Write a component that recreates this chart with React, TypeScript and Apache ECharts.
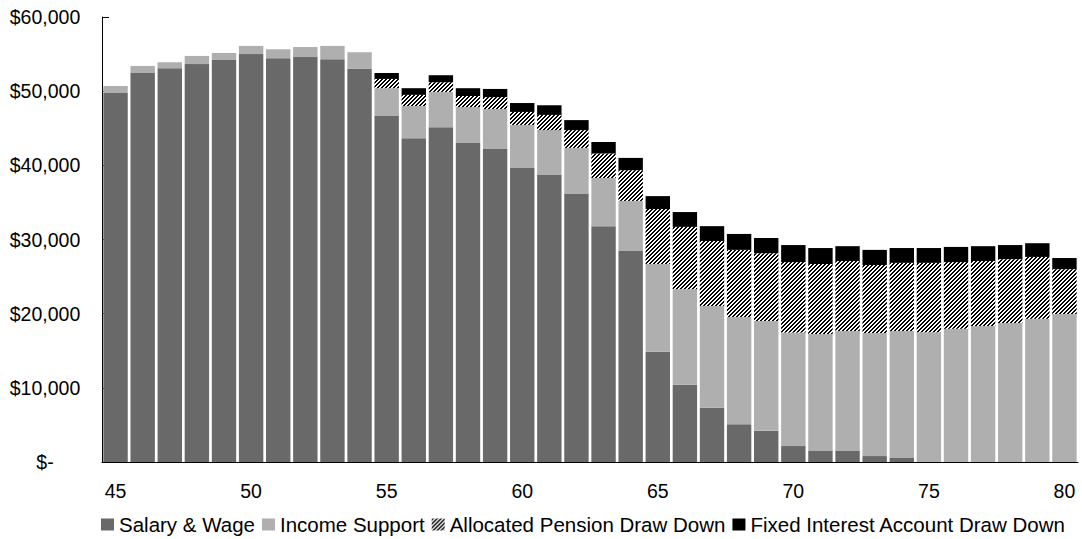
import React, { useEffect, useRef } from "react";
import * as echarts from "echarts";

// Age along the horizontal axis
const ages: string[] = [
  "45", "46", "47", "48", "49", "50", "51", "52", "53", "54",
  "55", "56", "57", "58", "59", "60", "61", "62", "63", "64",
  "65", "66", "67", "68", "69", "70", "71", "72", "73", "74",
  "75", "76", "77", "78", "79", "80",
];

// Annual income by source ($)
const salaryWage: number[] = [
  49750, 52450, 53100, 53650, 54200, 55000, 54450, 54600, 54300, 53000,
  46650, 43650, 45150, 43000, 42200, 39650, 38700, 36150, 31800, 28450,
  14850, 10400, 7300, 5100, 4200, 2150, 1500, 1500, 800, 550,
  0, 0, 0, 0, 0, 0,
];

const incomeSupport: number[] = [
  950, 950, 800, 1100, 950, 1100, 1200, 1350, 1800, 2250,
  3750, 4350, 4750, 4850, 5400, 5800, 6050, 6200, 6500, 6750,
  11850, 12900, 13750, 14450, 14800, 15300, 15750, 16150, 16600, 17100,
  17500, 17950, 18350, 18750, 19300, 19950,
];

const allocatedPension: number[] = [
  0, 0, 0, 0, 0, 0, 0, 0, 0, 0,
  1250, 1500, 1300, 1500, 1600, 1750, 2050, 2400, 3300, 4150,
  7400, 8400, 8750, 9050, 9150, 9500, 9450, 9450, 9150, 9200,
  9350, 9000, 8750, 8600, 8350, 6050,
];

const fixedInterest: number[] = [
  0, 0, 0, 0, 0, 0, 0, 0, 0, 0,
  800, 900, 950, 1050, 1100, 1200, 1300, 1350, 1550, 1650,
  1750, 2000, 2000, 2150, 2050, 2300, 2150, 2000, 2050, 2000,
  2000, 2050, 2000, 1900, 1850, 1500,
];

const FONT = "'Liberation Sans', Arial, sans-serif";

// Diagonal black/white stripe tile used for the pension draw-down fill
function makeStripeTile(): HTMLCanvasElement {
  const size = 4;
  const c = document.createElement("canvas");
  c.width = size;
  c.height = size;
  const ctx = c.getContext("2d")!;
  const img = ctx.createImageData(size, size);
  for (let y = 0; y < size; y++) {
    for (let x = 0; x < size; x++) {
      const dark = (x + y) % 4 < 2;
      const i = (y * size + x) * 4;
      const v = dark ? 0 : 255;
      img.data[i] = v;
      img.data[i + 1] = v;
      img.data[i + 2] = v;
      img.data[i + 3] = 255;
    }
  }
  ctx.putImageData(img, 0, 0);
  return c;
}

export default function App() {
  const ref = useRef<HTMLDivElement>(null);

  useEffect(() => {
    if (!ref.current) return;
    const chart = echarts.init(ref.current, undefined, { renderer: "svg" });
    const tile = makeStripeTile();
    const stripe: any = {
      image: tile,
      repeat: "repeat",
      imageWidth: tile.width,
      imageHeight: tile.height,
    };

    const barBase = {
      type: "bar" as const,
      stack: "income",
      barCategoryGap: "10%",
      emphasis: { disabled: true },
    };

    chart.setOption({
      animation: false,
      textStyle: { fontFamily: FONT },
      grid: { left: 102, right: 4, top: 17, bottom: 77, containLabel: false },
      legend: {
        left: 101,
        top: 514,
        padding: 0,
        itemWidth: 13,
        itemHeight: 12,
        itemGap: 7,
        icon: "rect",
        selectedMode: false,
        textStyle: { fontFamily: FONT, fontSize: 20.5, color: "#000", padding: [0, 0, 0, 0] },
        data: [
          "Salary & Wage",
          "Income Support",
          "Allocated Pension Draw Down",
          "Fixed Interest Account Draw Down",
        ],
      },
      xAxis: {
        type: "category",
        data: ages,
        axisLine: { lineStyle: { color: "#000", width: 1 } },
        axisTick: { inside: true, length: 6, interval: 0, lineStyle: { color: "#000" } },
        axisLabel: {
          interval: 4,
          margin: 19,
          fontSize: 19.5,
          fontFamily: FONT,
          color: "#000",
        },
      },
      yAxis: {
        type: "value",
        min: 0,
        max: 60000,
        interval: 10000,
        splitLine: { show: false },
        axisLine: { show: true, lineStyle: { color: "#000", width: 1 } },
        axisTick: { show: true, inside: true, length: 7, lineStyle: { color: "#000" } },
        axisLabel: {
          align: "center",
          margin: 57,
          fontSize: 19.5,
          fontFamily: FONT,
          color: "#000",
          formatter: (v: number) =>
            v === 0 ? "$-" : "$" + v.toLocaleString("en-US"),
        },
      },
      series: [
        { ...barBase, name: "Salary & Wage", data: salaryWage, itemStyle: { color: "#696969" } },
        { ...barBase, name: "Income Support", data: incomeSupport, itemStyle: { color: "#afafaf" } },
        { ...barBase, name: "Allocated Pension Draw Down", data: allocatedPension, itemStyle: { color: stripe } },
        { ...barBase, name: "Fixed Interest Account Draw Down", data: fixedInterest, itemStyle: { color: "#000" } },
      ],
    });

    return () => chart.dispose();
  }, []);

  return (
    <div
      ref={ref}
      style={{ position: "fixed", left: 0, top: 0, width: 1082, height: 539, background: "#fff" }}
    />
  );
}
